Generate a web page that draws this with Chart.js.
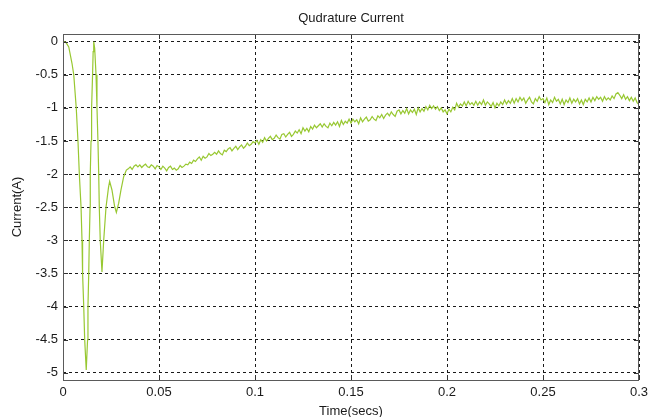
<!DOCTYPE html>
<html><head><meta charset="utf-8">
<script src="https://cdn.jsdelivr.net/npm/chart.js@4/dist/chart.umd.min.js"></script>
<style>html,body{margin:0;padding:0;background:#fff}#wrap{width:649px;height:417px;position:relative}</style>
</head><body><div id="wrap"><canvas id="c" width="649" height="417"></canvas></div>
<script>
// Start-up transient: sample times (s) and current (A)
const transientT = [0,0.0015,0.003,0.0047,0.0056,0.0069,0.0078,0.0085,0.0094,0.0099,0.0102,0.0108,0.0113,0.0121,0.0128,0.0130,0.0134,0.0137,0.0141,0.0142,0.0146,0.0149,0.0154,0.0157,0.0160,0.0165,0.0172,0.0177,0.0182,0.0186,0.0189,0.0194,0.0203,0.0212,0.0224,0.0237,0.0243,0.0255,0.0269,0.0278,0.0290,0.0302,0.0316,0.0330];
const transientI = [0,-0.01,-0.08,-0.33,-0.5,-1.0,-1.5,-2.0,-2.5,-3.0,-3.5,-4.0,-4.5,-4.96,-4.5,-4.0,-3.5,-3.0,-2.5,-2.0,-1.5,-1.0,-0.5,-0.15,0,-0.1,-0.5,-1.0,-1.5,-2.0,-2.5,-3.0,-3.48,-3.0,-2.5,-2.2,-2.11,-2.24,-2.49,-2.58,-2.44,-2.24,-2.04,-1.94];
// Noisy settling part, sampled every 1 ms from 0.034 s
const settleStart = 0.034;
const settleStep = 0.001;
const settleI = [
-1.92,-1.89,-1.93,-1.88,-1.86,-1.89,
-1.86,-1.90,-1.87,-1.85,-1.89,
-1.90,-1.86,-1.88,-1.92,-1.87,
-1.89,-1.93,-1.88,-1.91,-1.95,
-1.90,-1.88,-1.93,-1.91,-1.94,
-1.92,-1.87,-1.90,-1.88,-1.85,
-1.86,-1.82,-1.84,-1.79,-1.81,
-1.77,-1.74,-1.79,-1.73,-1.76,
-1.74,-1.69,-1.72,-1.70,-1.67,
-1.70,-1.65,-1.69,-1.71,-1.64,
-1.66,-1.62,-1.60,-1.65,-1.61,
-1.58,-1.63,-1.59,-1.56,-1.61,
-1.58,-1.53,-1.57,-1.55,-1.51,
-1.53,-1.49,-1.55,-1.48,-1.52,
-1.45,-1.50,-1.46,-1.43,-1.48,
-1.46,-1.41,-1.45,-1.47,-1.40,
-1.39,-1.44,-1.40,-1.37,-1.43,
-1.40,-1.35,-1.38,-1.33,-1.39,
-1.30,-1.35,-1.31,-1.36,-1.28,
-1.32,-1.26,-1.30,-1.27,-1.24,
-1.29,-1.24,-1.28,-1.30,-1.23,
-1.27,-1.22,-1.26,-1.21,-1.28,
-1.19,-1.25,-1.20,-1.23,-1.17,
-1.23,-1.17,-1.21,-1.18,-1.24,
-1.15,-1.21,-1.17,-1.14,-1.20,
-1.18,-1.13,-1.17,-1.19,-1.12,
-1.15,-1.10,-1.16,-1.11,-1.08,
-1.12,-1.06,-1.10,-1.13,-1.05,
-1.03,-1.09,-1.04,-1.08,-1.01,
-1.09,-1.03,-1.07,-1.02,-1.10,
-1.00,-1.06,-1.01,-1.05,-0.98,
-1.03,-0.96,-1.01,-0.97,-1.02,
-0.98,-1.04,-1.00,-1.06,-1.03,
-1.09,-1.02,-1.06,-0.99,-1.03,
-0.93,-0.99,-0.94,-0.97,-0.91,
-0.97,-0.90,-0.95,-0.92,-0.96,
-0.90,-0.96,-0.91,-0.95,-0.88,
-0.96,-0.91,-0.94,-0.98,-0.92,
-1.00,-0.93,-0.97,-0.91,-0.95,
-0.88,-0.94,-0.89,-0.93,-0.86,
-0.93,-0.86,-0.91,-0.84,-0.89,
-0.85,-0.93,-0.88,-0.84,-0.91,
-0.94,-0.86,-0.90,-0.83,-0.88,
-0.86,-0.92,-0.85,-0.95,-0.88,
-0.92,-0.84,-0.90,-0.87,-0.94,
-0.87,-0.95,-0.88,-0.92,-0.85,
-0.93,-0.87,-0.91,-0.86,-0.94,
-0.88,-0.95,-0.87,-0.91,-0.85,
-0.91,-0.84,-0.89,-0.83,-0.87,
-0.84,-0.90,-0.83,-0.88,-0.85,
-0.88,-0.82,-0.86,-0.79,-0.77,
-0.81,-0.86,-0.80,-0.87,-0.83,
-0.89,-0.84,-0.90,-0.85,-0.92,
-0.95
];
const xTicks = [0,0.05,0.1,0.15,0.2,0.25,0.3];
const yTicks = [0,-0.5,-1,-1.5,-2,-2.5,-3,-3.5,-4,-4.5,-5];
const xRange = [0,0.3];
const yRange = [-5.11,0.116];

const points = [];
transientT.forEach((t,i)=>points.push({x:t,y:transientI[i]}));
settleI.forEach((v,i)=>points.push({x:+(settleStart+i*settleStep).toFixed(4),y:v}));

const FONT = "'Liberation Sans', Arial, sans-serif";
const TXT = '#1a1a1a';

const boxPlugin = {
  id:'box',
  afterDraw(chart){
    const {ctx, chartArea:a, scales:{x,y}} = chart;
    ctx.save();
    ctx.strokeStyle = '#333';
    ctx.lineWidth = 1;
    ctx.beginPath();
    yTicks.forEach(v=>{
      const py = Math.round(y.getPixelForValue(v))+0.5;
      ctx.moveTo(a.left, py); ctx.lineTo(a.left+5, py);
      ctx.moveTo(a.right-5, py); ctx.lineTo(a.right, py);
    });
    xTicks.forEach(v=>{
      const px = Math.round(x.getPixelForValue(v))+0.5;
      ctx.moveTo(px, a.bottom); ctx.lineTo(px, a.bottom-5);
      ctx.moveTo(px, a.top); ctx.lineTo(px, a.top+5);
    });
    ctx.stroke();
    ctx.strokeStyle = '#5a5a5a';
    ctx.strokeRect(Math.round(a.left)+0.5, Math.round(a.top)+0.5, Math.round(a.right-a.left)-1, Math.round(a.bottom-a.top));
    ctx.restore();
  }
};

new Chart(document.getElementById('c'), {
  type:'line',
  data:{datasets:[{data:points, borderColor:'#98c832', borderWidth:1.2, pointRadius:0, tension:0, fill:false}]},
  options:{
    responsive:false, animation:false,
    layout:{padding:{left:0,right:10,top:0,bottom:0}},
    plugins:{
      legend:{display:false}, tooltip:{enabled:false},
      title:{display:true, text:'Qudrature Current', fullSize:false, color:TXT,
        font:{family:FONT, size:13, weight:'normal'}, padding:{top:10.2,bottom:8.2}}
    },
    scales:{
      x:{type:'linear', min:xRange[0], max:xRange[1],
        afterBuildTicks:s=>{s.ticks = xTicks.map(v=>({value:v}));},
        afterFit:s=>{s.height = 37; s.paddingLeft = 0; s.paddingRight = 0;},
        ticks:{color:TXT, font:{family:FONT,size:13}, padding:5, maxRotation:0, autoSkip:false, callback:v=>String(v)},
        grid:{color:'#1a1a1a', drawTicks:false, tickLength:0, lineWidth:1},
        border:{display:false, dash:[3,3]},
        title:{display:true, text:'Time(secs)', color:TXT, font:{family:FONT,size:13,lineHeight:0.92}, padding:0}
      },
      y:{type:'linear', min:yRange[0], max:yRange[1],
        afterBuildTicks:s=>{s.ticks = yTicks.map(v=>({value:v}));},
        afterFit:s=>{s.width = 63; s.paddingTop = 0; s.paddingBottom = 0;},
        ticks:{color:TXT, font:{family:FONT,size:13}, padding:5, autoSkip:false, callback:v=>String(v)},
        grid:{color:'#1a1a1a', drawTicks:false, tickLength:0, lineWidth:1},
        border:{display:false, dash:[3,3]},
        title:{display:true, text:'Current(A)', color:TXT, font:{family:FONT,size:13}, padding:{top:9.2,bottom:0}}
      }
    }
  },
  plugins:[boxPlugin]
});
</script></body></html>
